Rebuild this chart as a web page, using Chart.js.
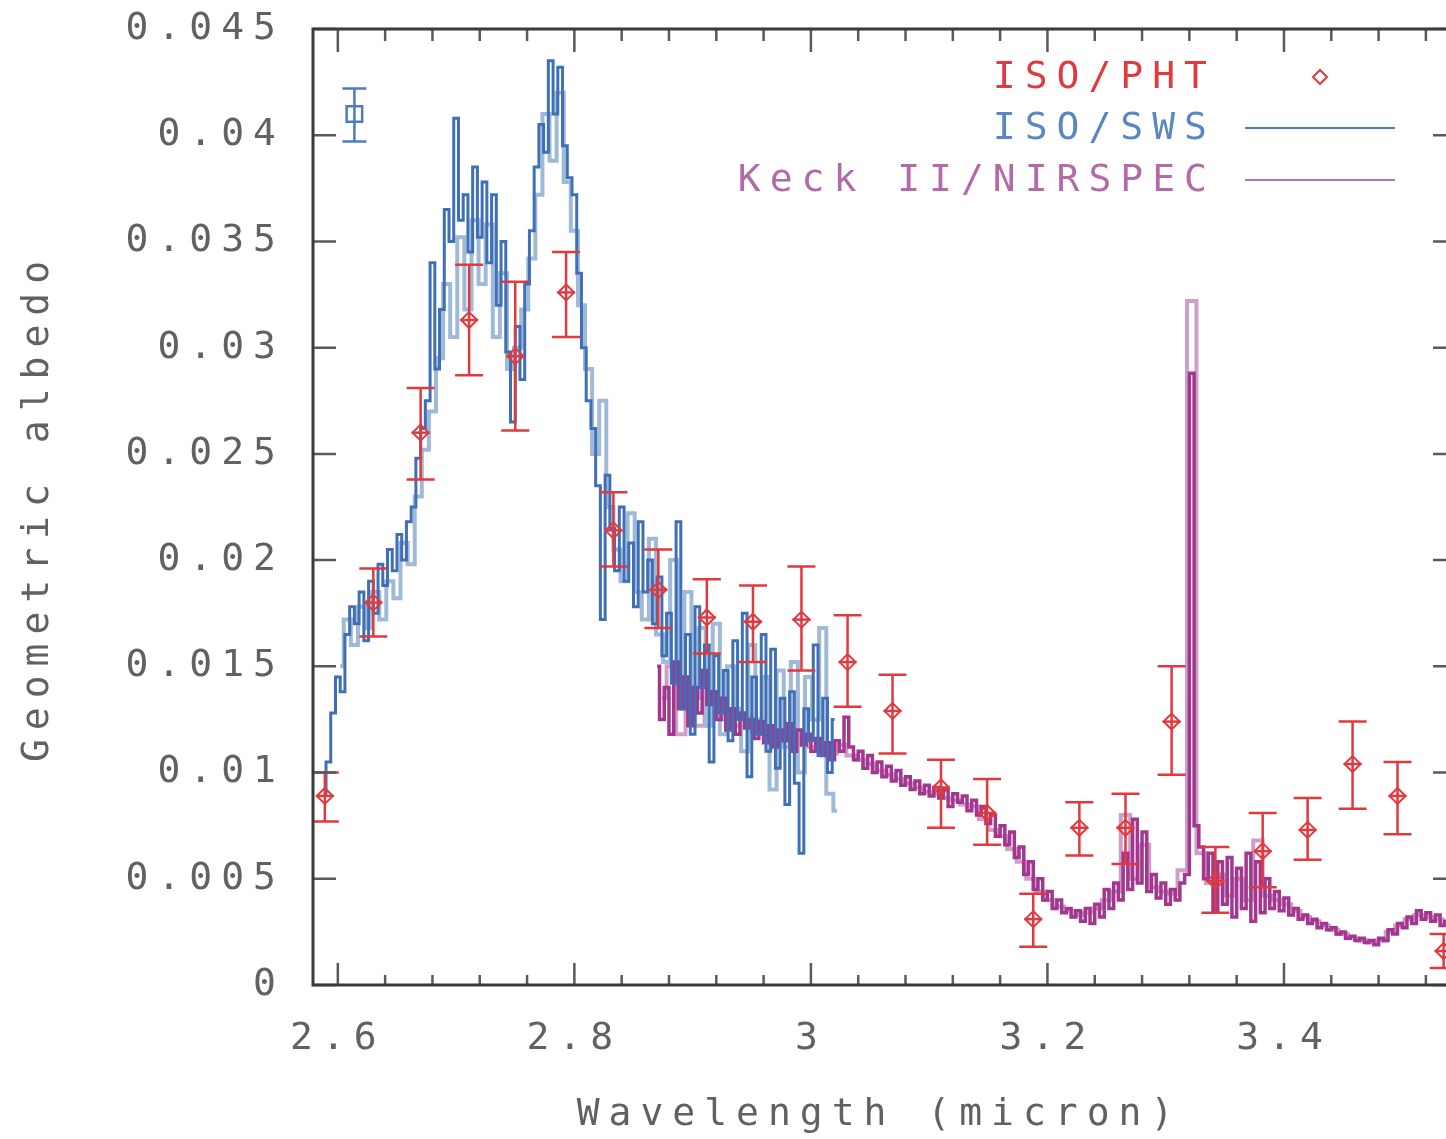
<!DOCTYPE html>
<html>
<head>
<meta charset="utf-8">
<script src="https://cdn.jsdelivr.net/npm/chart.js@4.4.1/dist/chart.umd.min.js"></script>
<style>
  html, body { margin: 0; padding: 0; background: #fff; overflow: hidden; }
  #wrap { width: 1446px; height: 1139px; }
  canvas { display: block; }
</style>
</head>
<body>
<div id="wrap"><canvas id="albedo"></canvas></div>
<script>
// ISO/PHT photometry with error bars
const phtX  = [2.589, 2.630, 2.670, 2.711, 2.750, 2.793, 2.833, 2.871, 2.912, 2.951, 2.992, 3.031, 3.069,
               3.110, 3.149, 3.188, 3.227, 3.266, 3.305, 3.342, 3.382, 3.420, 3.458, 3.496, 3.535];
const phtY  = [0.0089, 0.0180, 0.0260, 0.0313, 0.0296, 0.0326, 0.0214, 0.0186, 0.0173, 0.0171, 0.0172, 0.0152, 0.0129,
               0.0093, 0.0081, 0.0031, 0.0074, 0.0074, 0.0124, 0.0049, 0.0063, 0.0073, 0.0104, 0.0089, 0.0016];
const phtHi = [0.0100, 0.0196, 0.0281, 0.0339, 0.0331, 0.0345, 0.0232, 0.0205, 0.0191, 0.0188, 0.0197, 0.0174, 0.0146,
               0.0106, 0.0097, 0.0043, 0.0086, 0.0090, 0.0150, 0.0065, 0.0081, 0.0088, 0.0124, 0.0105, 0.0024];
const phtLo = [0.0077, 0.0164, 0.0238, 0.0287, 0.0261, 0.0305, 0.0197, 0.0168, 0.0156, 0.0152, 0.0148, 0.0131, 0.0109,
               0.0074, 0.0066, 0.0018, 0.0061, 0.0057, 0.0099, 0.0034, 0.0046, 0.0059, 0.0083, 0.0071, 0.0008];

// typical ISO/SWS error bar shown in the corner
const swsRefX = [2.614];
const swsRefY = [0.0410];
const swsRefHi = [0.0422];
const swsRefLo = [0.0397];

// ISO/SWS spectrum (two scans), regular wavelength grids
const swsDarkStart = 2.588, swsDarkStep = 0.004;
const swsDark = [
  0.0090, 0.0105, 0.0128, 0.0145, 0.0138, 0.0165, 0.0178, 0.0170, 0.0185, 0.0162,
  0.0190, 0.0175, 0.0198, 0.0188, 0.0205, 0.0195, 0.0212, 0.0200, 0.0218, 0.0225,
  0.0248, 0.0262, 0.0275, 0.0340, 0.0290, 0.0318, 0.0365, 0.0350, 0.0408, 0.0360,
  0.0372, 0.0345, 0.0385, 0.0352, 0.0378, 0.0340, 0.0372, 0.0320, 0.0350, 0.0298,
  0.0265, 0.0310, 0.0285, 0.0330, 0.0355, 0.0385, 0.0405, 0.0392, 0.0435, 0.0410,
  0.0432, 0.0395, 0.0380, 0.0372, 0.0335, 0.0300, 0.0275, 0.0262, 0.0235, 0.0172,
  0.0240, 0.0215, 0.0195, 0.0225, 0.0190, 0.0208, 0.0178, 0.0218, 0.0185, 0.0200,
  0.0170, 0.0192, 0.0155, 0.0175, 0.0142, 0.0218, 0.0130, 0.0165, 0.0118, 0.0178,
  0.0140, 0.0160, 0.0105, 0.0155, 0.0128, 0.0148, 0.0115, 0.0162, 0.0125, 0.0175,
  0.0098, 0.0145, 0.0118, 0.0165, 0.0110, 0.0158, 0.0102, 0.0135, 0.0085, 0.0138,
  0.0095, 0.0062, 0.0130, 0.0115, 0.0160, 0.0108, 0.0135, 0.0100, 0.0125
];
const swsLightStart = 2.602, swsLightStep = 0.006;
const swsLight = [
  0.0150, 0.0172, 0.0160, 0.0178, 0.0168, 0.0185, 0.0172, 0.0190, 0.0182, 0.0208,
  0.0198, 0.0230, 0.0252, 0.0270, 0.0295, 0.0330, 0.0305, 0.0352, 0.0318, 0.0360,
  0.0330, 0.0358, 0.0305, 0.0335, 0.0290, 0.0300, 0.0318, 0.0342, 0.0372, 0.0410,
  0.0388, 0.0420, 0.0378, 0.0355, 0.0320, 0.0290, 0.0250, 0.0275, 0.0225, 0.0205,
  0.0190, 0.0222, 0.0185, 0.0172, 0.0210, 0.0165, 0.0152, 0.0200, 0.0140, 0.0185,
  0.0135, 0.0168, 0.0122, 0.0170, 0.0118, 0.0150, 0.0130, 0.0110, 0.0160, 0.0125,
  0.0145, 0.0092, 0.0148, 0.0112, 0.0152, 0.0100, 0.0145, 0.0125, 0.0168, 0.0090,
  0.0082
];

// Keck II/NIRSPEC spectrum
const keckDarkStart = 2.870, keckDarkStep = 0.004;
const keckDark = [
  0.0150, 0.0125, 0.0140, 0.0118, 0.0152, 0.0130, 0.0145, 0.0122, 0.0140, 0.0128,
  0.0148, 0.0132, 0.0138, 0.0125, 0.0135, 0.0120, 0.0130, 0.0118, 0.0128, 0.0121,
  0.0125, 0.0116, 0.0124, 0.0114, 0.0122, 0.0112, 0.0120, 0.0115, 0.0123, 0.0110,
  0.0120, 0.0113, 0.0118, 0.0110, 0.0116, 0.0108, 0.0114, 0.0106, 0.0115, 0.0110,
  0.0126, 0.0112, 0.0106, 0.0110, 0.0102, 0.0108, 0.0100, 0.0105, 0.0098, 0.0103,
  0.0096, 0.0101, 0.0094, 0.0098, 0.0092, 0.0096, 0.0090, 0.0094, 0.0089, 0.0093,
  0.0088, 0.0092, 0.0084, 0.0090, 0.0086, 0.0089, 0.0082, 0.0087, 0.0080, 0.0084,
  0.0076, 0.0080, 0.0070, 0.0075, 0.0066, 0.0072, 0.0060, 0.0065, 0.0052, 0.0058,
  0.0045, 0.0050, 0.0040, 0.0044, 0.0036, 0.0040, 0.0034, 0.0036, 0.0032, 0.0035,
  0.0030, 0.0036, 0.0029, 0.0038, 0.0032, 0.0045, 0.0036, 0.0048, 0.0040, 0.0062,
  0.0045, 0.0078, 0.0048, 0.0072, 0.0044, 0.0052, 0.0041, 0.0048, 0.0038, 0.0045,
  0.0040, 0.0048, 0.0052, 0.0288, 0.0075, 0.0065, 0.0050, 0.0062, 0.0035, 0.0058,
  0.0038, 0.0060, 0.0032, 0.0055, 0.0036, 0.0062, 0.0030, 0.0058, 0.0034, 0.0050,
  0.0036, 0.0044, 0.0035, 0.0041, 0.0033, 0.0036, 0.0031, 0.0033, 0.0029, 0.0031,
  0.0027, 0.0029, 0.0026, 0.0027, 0.0024, 0.0025, 0.0022, 0.0023, 0.0021, 0.0022,
  0.0020, 0.0021, 0.0019, 0.0022, 0.0021, 0.0026, 0.0024, 0.0029, 0.0027, 0.0032,
  0.0029, 0.0035, 0.0031, 0.0034, 0.0030, 0.0033, 0.0028, 0.0030
];
const keckLightStart = 2.874, keckLightStep = 0.008;
const keckLight = [
  0.0135, 0.0150, 0.0118, 0.0140, 0.0122, 0.0135, 0.0130, 0.0125, 0.0122, 0.0126,
  0.0119, 0.0120, 0.0116, 0.0119, 0.0113, 0.0117, 0.0112, 0.0111, 0.0109, 0.0113,
  0.0108, 0.0106, 0.0104, 0.0101, 0.0099, 0.0097, 0.0095, 0.0093, 0.0091, 0.0090,
  0.0088, 0.0087, 0.0085, 0.0084, 0.0078, 0.0073, 0.0070, 0.0064, 0.0058, 0.0050,
  0.0044, 0.0040, 0.0037, 0.0035, 0.0033, 0.0034, 0.0036, 0.0040, 0.0044, 0.0080,
  0.0050, 0.0066, 0.0046, 0.0044, 0.0043, 0.0054, 0.0322, 0.0062, 0.0048, 0.0052,
  0.0042, 0.0050, 0.0040, 0.0068, 0.0042, 0.0040, 0.0038, 0.0035, 0.0032, 0.0030,
  0.0028, 0.0026, 0.0024, 0.0022, 0.0021, 0.0020, 0.0021, 0.0025, 0.0028, 0.0031,
  0.0033, 0.0032, 0.0031, 0.0029
];

const xMin = 2.579, xMax = 3.537;
const yMin = 0, yMax = 0.045;

const FONT = "'DejaVu Sans Mono', monospace";
const TEXT = '#616161';
const RED = '#e03a3e', BLUE = '#3f6fb6', BLUE_LIGHT = '#9fb9d8',
      PURPLE = '#a3378f', PURPLE_LIGHT = '#cf9ecb';

function gridPoints(start, step, values) {
  return values.map((v, i) => ({ x: +(start + i * step).toFixed(4), y: v }));
}
function pairs(xs, ys) {
  return xs.map((x, i) => ({ x: x, y: ys[i] }));
}

// keep the plot box fixed: no automatic label padding around the chart area
function noPadding(scale) {
  scale.paddingTop = 0;
  scale.paddingBottom = 0;
  scale.paddingLeft = 0;
  scale.paddingRight = 0;
}

function drawErrBars(ctx, xs, ys, hi, lo, sx, sy, color, cap) {
  ctx.strokeStyle = color;
  ctx.lineWidth = 2.5;
  for (let i = 0; i < xs.length; i++) {
    const px = sx.getPixelForValue(xs[i]);
    const pt = sy.getPixelForValue(hi[i]);
    const pb = sy.getPixelForValue(lo[i]);
    ctx.beginPath();
    ctx.moveTo(px, pt); ctx.lineTo(px, pb);
    ctx.moveTo(px - cap, pt); ctx.lineTo(px + cap, pt);
    ctx.moveTo(px - cap, pb); ctx.lineTo(px + cap, pb);
    ctx.stroke();
  }
}

// error bars go under the PHT markers but above the spectra
const errorBars = {
  id: 'errorBars',
  beforeDatasetDraw(chart, args) {
    if (args.index !== 0) return;
    const { ctx, chartArea: a, scales: { x, y } } = chart;
    ctx.save();
    ctx.beginPath();
    ctx.rect(a.left, a.top, a.right - a.left, a.bottom - a.top);
    ctx.clip();
    drawErrBars(ctx, phtX, phtY, phtHi, phtLo, x, y, RED, 14);
    drawErrBars(ctx, swsRefX, swsRefY, swsRefHi, swsRefLo, x, y, '#4b7cc2', 12);
    ctx.strokeStyle = RED;
    phtX.forEach((v, i) => {
      const px = x.getPixelForValue(v), py = y.getPixelForValue(phtY[i]);
      ctx.beginPath(); ctx.moveTo(px - 9, py); ctx.lineTo(px + 9, py); ctx.stroke();
    });
    ctx.restore();
  }
};

// gnuplot style frame, inward ticks and key
const frame = {
  id: 'frame',
  beforeDraw(chart) {
    const ctx = chart.ctx;
    ctx.save();
    ctx.fillStyle = '#fff';
    ctx.fillRect(0, 0, chart.width, chart.height);
    ctx.restore();
    ctx.letterSpacing = '9px';
  },
  afterDraw(chart) {
    const { ctx, chartArea: a, scales: { x, y } } = chart;
    ctx.save();
    ctx.strokeStyle = '#5a5a5a';
    ctx.lineWidth = 2.5;
    ctx.beginPath();
    x.ticks.forEach(t => {
      const px = x.getPixelForValue(t.value);
      const major = t.label !== '';
      ctx.moveTo(px, a.bottom); ctx.lineTo(px, a.bottom - (major ? 22 : 10));
      ctx.moveTo(px, a.top); ctx.lineTo(px, a.top + (major ? 23 : 12));
    });
    y.ticks.forEach(t => {
      const py = y.getPixelForValue(t.value);
      ctx.moveTo(a.left, py); ctx.lineTo(a.left + 23, py);
      ctx.moveTo(a.right, py); ctx.lineTo(a.right - 13, py);
    });
    ctx.stroke();

    ctx.strokeStyle = '#3a3a3a';
    ctx.lineWidth = 3;
    ctx.beginPath();
    ctx.moveTo(a.right, a.top); ctx.lineTo(a.left, a.top);
    ctx.lineTo(a.left, a.bottom); ctx.lineTo(a.right, a.bottom);
    ctx.stroke();

    // key
    ctx.font = '38px ' + FONT;
    ctx.textAlign = 'right';
    ctx.textBaseline = 'middle';
    const keyX = 1216;
    const rows = [
      { text: 'ISO/PHT', color: RED, y: 78 },
      { text: 'ISO/SWS', color: '#5a86c4', y: 129 },
      { text: 'Keck II/NIRSPEC', color: '#b46aa8', y: 181 }
    ];
    rows.forEach(r => { ctx.fillStyle = r.color; ctx.fillText(r.text, keyX, r.y); });
    ctx.lineWidth = 2;
    ctx.strokeStyle = '#4b7cc2';
    ctx.beginPath(); ctx.moveTo(1245, 128); ctx.lineTo(1395, 128); ctx.stroke();
    ctx.strokeStyle = '#b872aa';
    ctx.beginPath(); ctx.moveTo(1245, 180); ctx.lineTo(1395, 180); ctx.stroke();
    ctx.strokeStyle = RED;
    ctx.beginPath();
    ctx.moveTo(1320, 70); ctx.lineTo(1327, 77); ctx.lineTo(1320, 84); ctx.lineTo(1313, 77); ctx.closePath();
    ctx.stroke();
    ctx.restore();
  }
};

new Chart(document.getElementById('albedo').getContext('2d'), {
  type: 'scatter',
  data: {
    datasets: [
      {
        label: 'ISO/PHT',
        data: pairs(phtX, phtY),
        order: 0,
        pointStyle: 'rectRot',
        pointRadius: 8,
        borderColor: RED,
        backgroundColor: 'rgba(255,255,255,0)',
        borderWidth: 2
      },
      {
        label: 'SWS typical error',
        data: pairs(swsRefX, swsRefY),
        order: 0,
        pointStyle: 'rect',
        pointRadius: 11,
        borderColor: '#4b7cc2',
        backgroundColor: 'rgba(255,255,255,0)',
        borderWidth: 2.5
      },
      {
        label: 'ISO/SWS',
        data: gridPoints(swsDarkStart, swsDarkStep, swsDark),
        order: 1, showLine: true, stepped: 'middle', pointRadius: 0,
        borderColor: BLUE, borderWidth: 3
      },
      {
        label: 'Keck II/NIRSPEC',
        data: gridPoints(keckDarkStart, keckDarkStep, keckDark),
        order: 1, showLine: true, stepped: 'middle', pointRadius: 0,
        borderColor: PURPLE, borderWidth: 3.5
      },
      {
        label: 'ISO/SWS scan 2',
        data: gridPoints(swsLightStart, swsLightStep, swsLight),
        order: 2, showLine: true, stepped: 'middle', pointRadius: 0,
        borderColor: BLUE_LIGHT, borderWidth: 4
      },
      {
        label: 'Keck II/NIRSPEC 2',
        data: gridPoints(keckLightStart, keckLightStep, keckLight),
        order: 2, showLine: true, stepped: 'middle', pointRadius: 0,
        borderColor: PURPLE_LIGHT, borderWidth: 4
      }
    ]
  },
  options: {
    responsive: true,
    maintainAspectRatio: false,
    animation: false,
    layout: { autoPadding: false, padding: { top: 29, right: 0, bottom: 0, left: 0 } },
    plugins: {
      legend: { display: false },
      tooltip: { enabled: false }
    },
    scales: {
      x: {
        type: 'linear',
        min: xMin,
        max: xMax,
        grid: { display: false },
        border: { display: false },
        afterFit: function (scale) { scale.height = 154; noPadding(scale); },
        ticks: {
          stepSize: 0.04,
          includeBounds: false,
          autoSkip: false,
          maxRotation: 0,
          padding: 23,
          color: TEXT,
          font: { family: FONT, size: 38 },
          callback: function (v) {
            const r = v / 0.2;
            return Math.abs(r - Math.round(r)) < 1e-6 ? String(Math.round(v * 10) / 10) : '';
          }
        },
        title: {
          display: true,
          text: 'Wavelength (micron)',
          color: TEXT,
          font: { family: FONT, size: 38 },
          padding: { top: 0, bottom: 1 }
        }
      },
      y: {
        type: 'linear',
        min: yMin,
        max: yMax,
        grid: { display: false },
        border: { display: false },
        afterFit: function (scale) { scale.width = 313; noPadding(scale); },
        ticks: {
          stepSize: 0.005,
          padding: 20,
          color: TEXT,
          font: { family: FONT, size: 38 },
          callback: function (v) { return String(parseFloat(v.toFixed(3))); }
        },
        title: {
          display: true,
          text: 'Geometric albedo',
          color: TEXT,
          font: { family: FONT, size: 38 },
          padding: { top: 15, bottom: 0 }
        }
      }
    }
  },
  plugins: [errorBars, frame]
});
</script>
</body>
</html>
